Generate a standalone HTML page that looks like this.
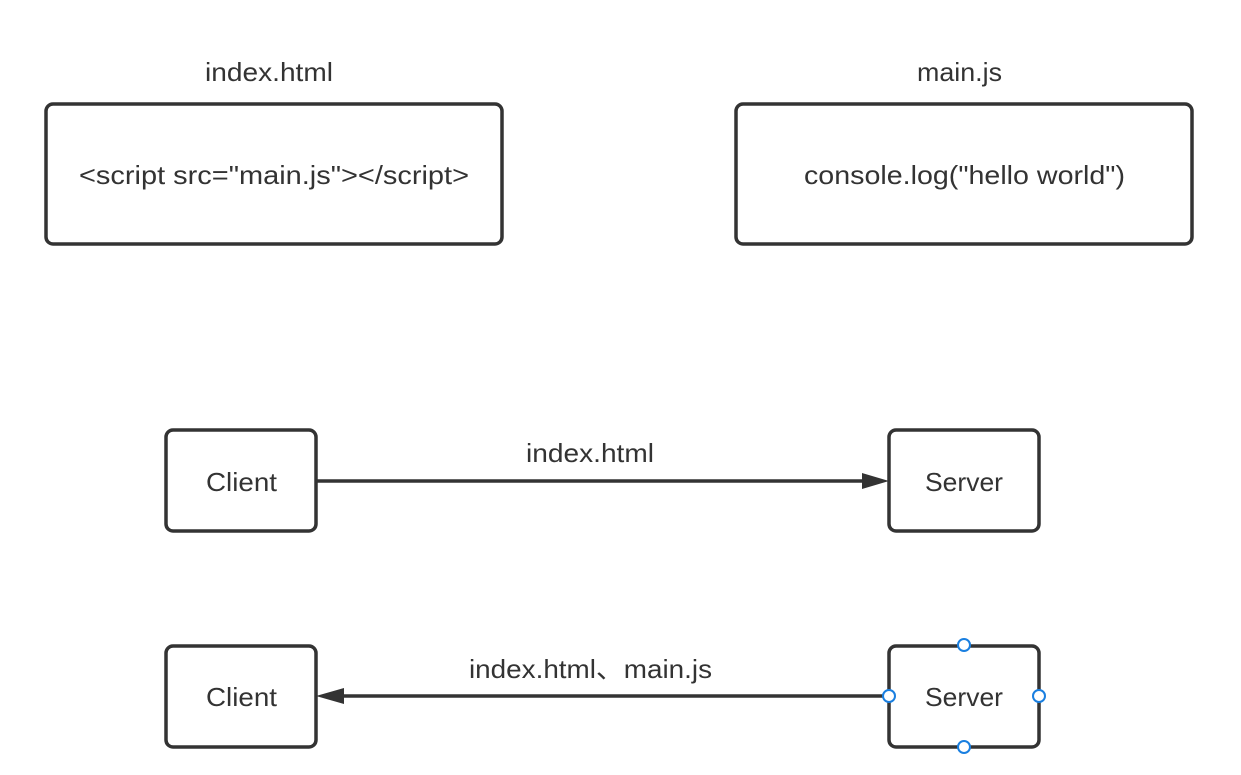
<!DOCTYPE html>
<html><head><meta charset="utf-8"><style>html,body{margin:0;padding:0;background:#fff}</style></head>
<body>
<svg width="1241" height="770" xmlns="http://www.w3.org/2000/svg" font-family="Liberation Sans, sans-serif" fill="#333">
<rect width="1241" height="770" fill="#fff"/>
<g fill="none" stroke="#333" stroke-width="3.5">
<rect x="46" y="104" width="456" height="140" rx="7"/>
<rect x="736" y="104" width="456" height="140" rx="7"/>
<rect x="166" y="430" width="150" height="101" rx="7"/>
<rect x="889" y="430" width="150" height="101" rx="7"/>
<rect x="166" y="646" width="150" height="101" rx="7"/>
<rect x="889" y="646" width="150" height="101" rx="7"/>
<line x1="316" y1="481" x2="866" y2="481"/>
<line x1="340" y1="696" x2="889" y2="696"/>
</g>
<polygon points="889,481 862,473 862,489" fill="#333"/>
<polygon points="316,696 344,688 344,704" fill="#333"/>
<g font-size="26" fill="#333" lengthAdjust="spacingAndGlyphs">
<text x="205" y="81" textLength="128" lengthAdjust="spacingAndGlyphs">index.html</text>
<text x="917" y="81" textLength="85" lengthAdjust="spacingAndGlyphs">main.js</text>
<text x="79" y="184" textLength="390" lengthAdjust="spacingAndGlyphs">&lt;script src="main.js"&gt;&lt;/script&gt;</text>
<text x="804" y="184" textLength="321" lengthAdjust="spacingAndGlyphs">console.log("hello world")</text>
<text x="206" y="491" textLength="71" lengthAdjust="spacingAndGlyphs">Client</text>
<text x="925" y="491" textLength="78" lengthAdjust="spacingAndGlyphs">Server</text>
<text x="526" y="462" textLength="128" lengthAdjust="spacingAndGlyphs">index.html</text>
<text x="206" y="706" textLength="71" lengthAdjust="spacingAndGlyphs">Client</text>
<text x="925" y="706" textLength="78" lengthAdjust="spacingAndGlyphs">Server</text>
<text x="469" y="678" textLength="243" lengthAdjust="spacingAndGlyphs" font-family="Liberation Sans, Noto Sans CJK SC, sans-serif">index.html、main.js</text>
</g>
<g fill="#fff" stroke="#1a7fe0" stroke-width="2">
<circle cx="964" cy="645" r="6"/>
<circle cx="964" cy="747" r="6"/>
<circle cx="889" cy="696" r="6"/>
<circle cx="1039" cy="696" r="6"/>
</g>
</svg>
</body></html>
